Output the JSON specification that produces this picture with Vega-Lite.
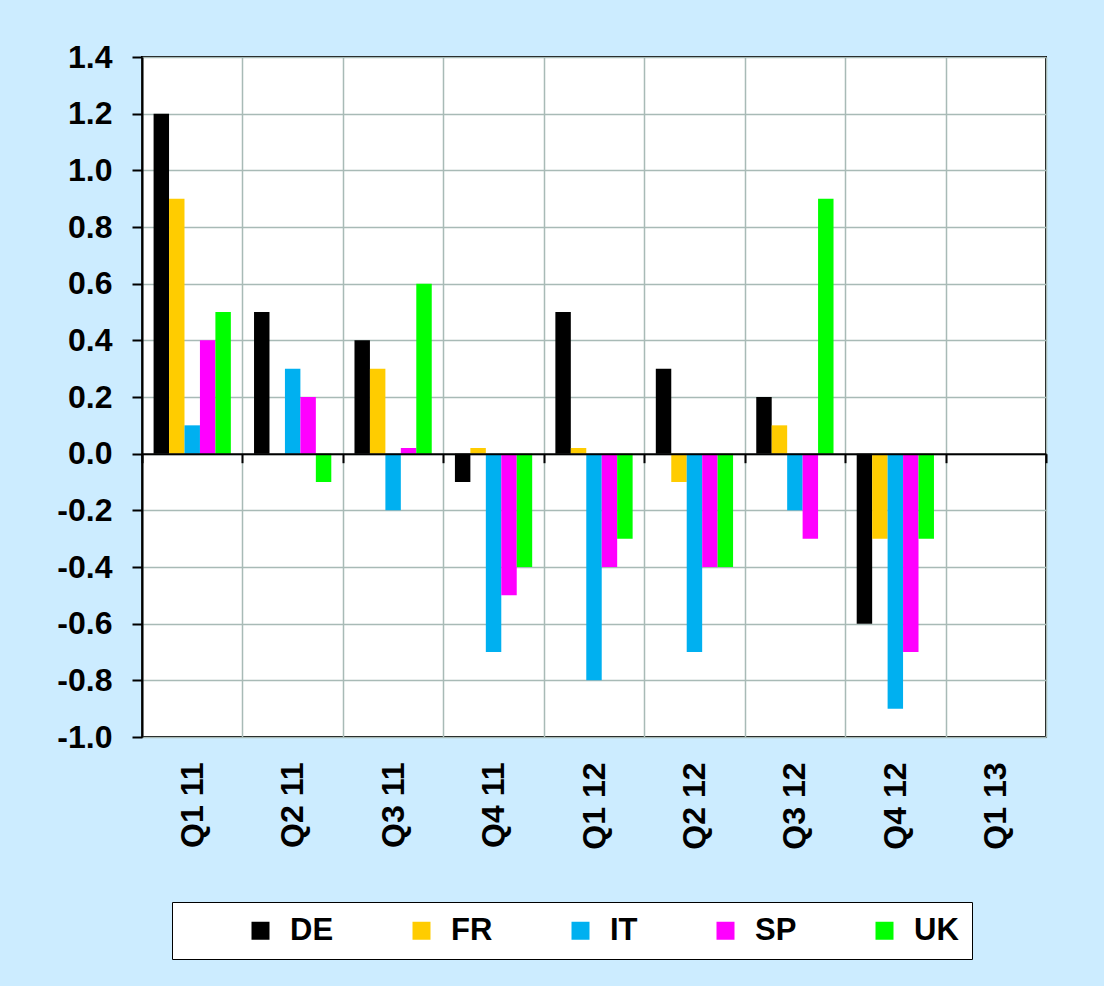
{
  "$schema": "https://vega.github.io/schema/vega-lite/v6.json",
  "width": 904,
  "height": 680,
  "autosize": {"type": "none"},
  "padding": {"left": 142, "top": 57, "right": 58, "bottom": 249},
  "background": "#CCECFF",
  "data": {
    "values": [
      {"q": "Q1 11", "c": "DE", "v": 1.2}, {"q": "Q1 11", "c": "FR", "v": 0.9}, {"q": "Q1 11", "c": "IT", "v": 0.1}, {"q": "Q1 11", "c": "SP", "v": 0.4}, {"q": "Q1 11", "c": "UK", "v": 0.5},
      {"q": "Q2 11", "c": "DE", "v": 0.5}, {"q": "Q2 11", "c": "IT", "v": 0.3}, {"q": "Q2 11", "c": "SP", "v": 0.2}, {"q": "Q2 11", "c": "UK", "v": -0.1},
      {"q": "Q3 11", "c": "DE", "v": 0.4}, {"q": "Q3 11", "c": "FR", "v": 0.3}, {"q": "Q3 11", "c": "IT", "v": -0.2}, {"q": "Q3 11", "c": "SP", "v": 0.02}, {"q": "Q3 11", "c": "UK", "v": 0.6},
      {"q": "Q4 11", "c": "DE", "v": -0.1}, {"q": "Q4 11", "c": "FR", "v": 0.02}, {"q": "Q4 11", "c": "IT", "v": -0.7}, {"q": "Q4 11", "c": "SP", "v": -0.5}, {"q": "Q4 11", "c": "UK", "v": -0.4},
      {"q": "Q1 12", "c": "DE", "v": 0.5}, {"q": "Q1 12", "c": "FR", "v": 0.02}, {"q": "Q1 12", "c": "IT", "v": -0.8}, {"q": "Q1 12", "c": "SP", "v": -0.4}, {"q": "Q1 12", "c": "UK", "v": -0.3},
      {"q": "Q2 12", "c": "DE", "v": 0.3}, {"q": "Q2 12", "c": "FR", "v": -0.1}, {"q": "Q2 12", "c": "IT", "v": -0.7}, {"q": "Q2 12", "c": "SP", "v": -0.4}, {"q": "Q2 12", "c": "UK", "v": -0.4},
      {"q": "Q3 12", "c": "DE", "v": 0.2}, {"q": "Q3 12", "c": "FR", "v": 0.1}, {"q": "Q3 12", "c": "IT", "v": -0.2}, {"q": "Q3 12", "c": "SP", "v": -0.3}, {"q": "Q3 12", "c": "UK", "v": 0.9},
      {"q": "Q4 12", "c": "DE", "v": -0.6}, {"q": "Q4 12", "c": "FR", "v": -0.3}, {"q": "Q4 12", "c": "IT", "v": -0.9}, {"q": "Q4 12", "c": "SP", "v": -0.7}, {"q": "Q4 12", "c": "UK", "v": -0.3}
    ]
  },
  "layer": [
    {
      "mark": {"type": "bar"},
      "encoding": {
        "x": {
          "field": "q", "type": "nominal", "sort": null,
          "scale": {"domain": ["Q1 11", "Q2 11", "Q3 11", "Q4 11", "Q1 12", "Q2 12", "Q3 12", "Q4 12", "Q1 13"], "paddingInner": 0, "paddingOuter": 0},
          "axis": {
            "orient": "bottom", "title": null, "labelAngle": 270, "labelAlign": "right", "labelBaseline": "middle",
            "labelFont": "Liberation Sans", "labelFontSize": 32, "labelFontWeight": "bold", "labelColor": "black",
            "labelPadding": 25, "ticks": false, "tickSize": 0, "domain": false,
            "grid": true, "gridColor": "#A8BAB6", "gridWidth": 1.5, "tickBand": "extent"
          }
        },
        "xOffset": {"field": "c", "type": "nominal", "scale": {"domain": ["DE", "FR", "IT", "SP", "UK"], "paddingInner": 0, "paddingOuter": 0.75}},
        "y": {
          "field": "v", "type": "quantitative",
          "scale": {"domain": [-1.0, 1.4], "nice": false, "zero": false},
          "axis": {
            "title": null, "values": [-1.0, -0.8, -0.6, -0.4, -0.2, 0, 0.2, 0.4, 0.6, 0.8, 1.0, 1.2, 1.4],
            "format": ".1f", "labelFont": "Liberation Sans", "labelFontSize": 32, "labelFontWeight": "bold", "labelColor": "black",
            "labelPadding": 20, "tickSize": 10, "tickColor": "black", "tickWidth": 2, "domainColor": "black", "domainWidth": 2,
            "grid": true, "gridColor": "#A8BAB6", "gridWidth": 1.5
          }
        },
        "color": {
          "field": "c", "type": "nominal",
          "scale": {"domain": ["DE", "FR", "IT", "SP", "UK"], "range": ["#000000", "#FFCC00", "#00B0F0", "#FF00FF", "#00FF00"]},
          "legend": {
            "orient": "none", "legendX": 30, "legendY": 845, "direction": "horizontal",
            "title": " ", "titleOrient": "left", "titlePadding": 60, "titleFontSize": 1,
            "fillColor": "white", "strokeColor": "black", "padding": 13,
            "symbolType": "square", "symbolSize": 324, "symbolStrokeWidth": 0, "symbolOpacity": 1,
            "labelFont": "Liberation Sans", "labelFontSize": 31, "labelFontWeight": "bold", "labelColor": "black",
            "labelOffset": 14, "columnPadding": 72,
            "labelExpr": "datum.value === 'UK' ? 'UK\u2003\u2003\u2003\u2003\u2003\u2003' : datum.label"
          }
        }
      }
    },
    {
      "mark": {"type": "tick", "opacity": 0},
      "encoding": {
        "x": {
          "field": "q", "type": "nominal", "sort": null,
          "axis": {
            "orient": "bottom", "title": null, "labels": false, "grid": false, "offset": -283.3,
            "domainColor": "black", "domainWidth": 2, "tickColor": "black", "tickWidth": 2, "tickSize": 9,
            "tickBand": "extent", "zindex": 2
          }
        },
        "y": {"datum": 0}
      }
    }
  ],
  "resolve": {"axis": {"x": "independent"}},
  "config": {
    "view": {"stroke": "black", "strokeWidth": 2, "fill": "white"},
    "locale": {"number": {"decimal": ".", "thousands": ",", "grouping": [3], "currency": ["$", ""], "minus": "-"}}
  }
}
